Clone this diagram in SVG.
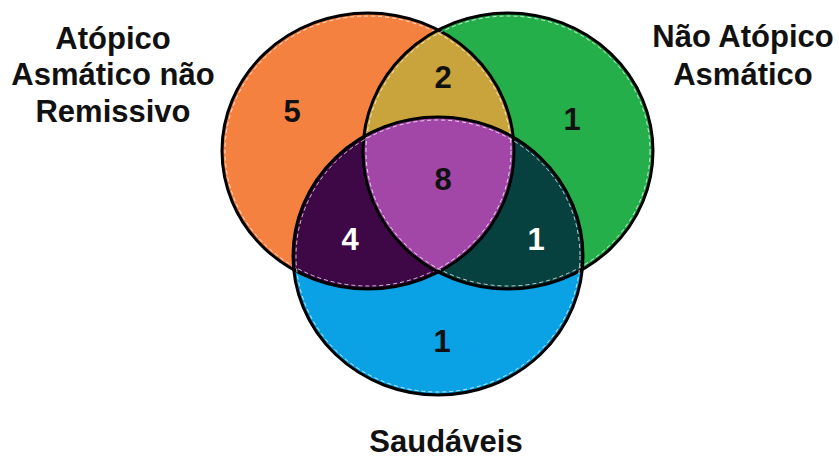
<svg xmlns="http://www.w3.org/2000/svg" width="839" height="461" viewBox="0 0 839 461">
  <style>
    .lbl { font-family: "Liberation Sans", Arial, sans-serif; font-weight: bold; font-size: 31px; fill: #111; text-anchor: middle; }
    .num { font-family: "Liberation Sans", Arial, sans-serif; font-weight: bold; font-size: 31px; text-anchor: middle; }
    .dark { fill: #111; }
    .light { fill: #fff; }
    .edge { fill: none; stroke: #000; stroke-width: 3; }
    .dash { fill: none; stroke: #fff; stroke-width: 1; stroke-dasharray: 4 3; opacity: 0.75; }
  </style>
  <defs>
    <ellipse id="eA" cx="368" cy="151" rx="146" ry="138"/>
    <ellipse id="eB" cx="508" cy="151" rx="145" ry="138"/>
    <ellipse id="eC" cx="438" cy="256" rx="145" ry="139"/>
    <clipPath id="cA"><use href="#eA"/></clipPath>
    <clipPath id="cB"><use href="#eB"/></clipPath>
  </defs>
  <rect width="839" height="461" fill="#fff"/>

  <g id="regions">
    <use href="#eA" fill="#F58141"/>
    <use href="#eB" fill="#25AF4B"/>
    <use href="#eC" fill="#0AA2E4"/>
    <g clip-path="url(#cA)"><use href="#eB" fill="#C9A33B"/></g>
    <g clip-path="url(#cA)"><use href="#eC" fill="#3D0845"/></g>
    <g clip-path="url(#cB)"><use href="#eC" fill="#06403F"/></g>
    <g clip-path="url(#cA)"><g clip-path="url(#cB)"><use href="#eC" fill="#A247A8"/></g></g>
  </g>

  <g id="set-atopico-asmatico">
    <ellipse class="dash" cx="368" cy="151" rx="143" ry="135"/>
    <ellipse class="edge" cx="368" cy="151" rx="146" ry="138"/>
    <text class="lbl" x="113" y="49">Atópico</text>
    <text class="lbl" x="113" y="85">Asmático não</text>
    <text class="lbl" x="113" y="122">Remissivo</text>
  </g>
  <g id="set-nao-atopico">
    <ellipse class="dash" cx="508" cy="151" rx="142" ry="135"/>
    <ellipse class="edge" cx="508" cy="151" rx="145" ry="138"/>
    <text class="lbl" x="743" y="47">Não Atópico</text>
    <text class="lbl" x="743" y="85">Asmático</text>
  </g>
  <g id="set-saudaveis">
    <ellipse class="dash" cx="438" cy="256" rx="142" ry="136"/>
    <ellipse class="edge" cx="438" cy="256" rx="145" ry="139"/>
    <text class="lbl" x="446" y="452" style="font-size:31px">Saudáveis</text>
  </g>

  <g id="counts">
    <text class="num dark" x="292" y="122">5</text>
    <text class="num dark" x="443" y="88">2</text>
    <text class="num dark" x="572" y="130">1</text>
    <text class="num dark" x="443" y="190">8</text>
    <text class="num light" x="350" y="250">4</text>
    <text class="num light" x="536" y="250">1</text>
    <text class="num dark" x="442" y="352">1</text>
  </g>
</svg>
